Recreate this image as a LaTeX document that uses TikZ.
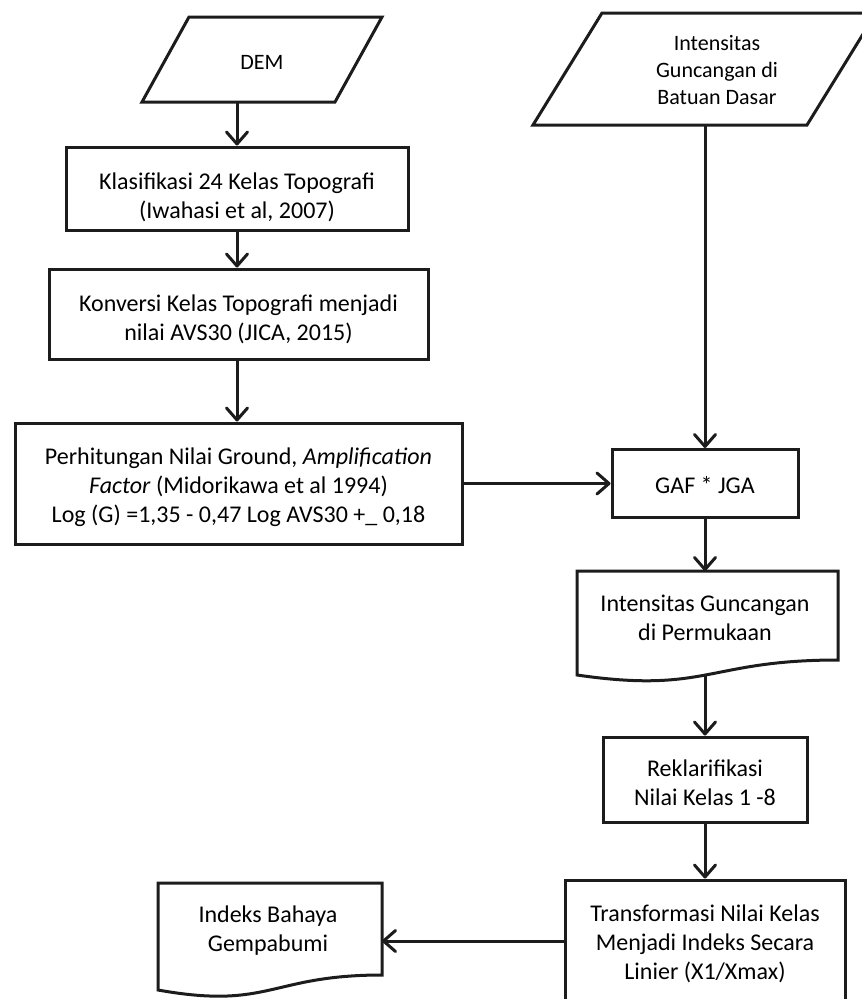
\documentclass[tikz,border=0pt]{standalone}
\usepackage{fontspec}
\setmainfont{Carlito}
\usetikzlibrary{arrows.meta}
\definecolor{ink}{HTML}{1C1C1C}
\tikzset{
  box/.style={draw=ink, line width=3pt, inner sep=0pt, anchor=center},
  txt/.style={align=center, inner sep=0pt, text=black, font=\fontsize{24}{29}\selectfont},
  smalltxt/.style={align=center, inner sep=0pt, text=black, font=\fontsize{22}{27}\selectfont},
  outline/.style={draw=ink, line width=3pt, line join=miter},
  flow/.style={draw=ink, line width=3pt, -{Straight Barb[round,length=12pt,width=21pt]}}
}
\begin{document}
\begin{tikzpicture}[x=1pt,y=-1pt]
\useasboundingbox (0,0) rectangle (862,999);
\clip (0,0) rectangle (862,999);

% input: DEM
\draw[outline] (189,17) -- (382,17) -- (335,102) -- (142,102) -- cycle;
\node[smalltxt] (dem) at (262,62) {DEM};
\coordinate (demb) at (237,102);

% input: bedrock shaking intensity
\draw[outline] (602,13) -- (876,13) -- (807,125) -- (533,125) -- cycle;
\node[smalltxt] (inb) at (717,70) {Intensitas\\Guncangan di\\Batuan Dasar};
\coordinate (inbb) at (705,125);

% left column process boxes
\node[box, minimum width=342pt, minimum height=83pt] (klas) at (237,188.5) {};
\node[txt] (klast) at (237,197) {Klasifikasi 24 Kelas Topografi\\(Iwahasi et al, 2007)};

\node[box, minimum width=379pt, minimum height=90pt] (konv) at (238.5,314) {};
\node[txt] (konvt) at (238.5,319) {Konversi Kelas Topografi menjadi\\nilai AVS30 (JICA, 2015)};

\node[box, minimum width=447pt, minimum height=121pt] (perh) at (238.5,483.5) {};
\node[txt] (perht) at (238.5,487) {Perhitungan Nilai Ground, \textit{Amplification}\\\textit{Factor} (Midorikawa et al 1994)\\Log (G) =1,35 - 0,47 Log AVS30 +\_ 0,18};

% right column
\node[box, minimum width=186pt, minimum height=68pt] (gaf) at (705,483.5) {};
\node[txt] (gaft) at (705,485) {GAF * JGA};

% document: surface shaking intensity
\draw[outline] (577,571) -- (838,571) -- (838,660)
  .. controls (707.5,660) and (707.5,694) .. (577,675) -- cycle;
\node[txt] (surft) at (705,618) {Intensitas Guncangan\\di Permukaan};
\coordinate (surfa) at (705,571);
\coordinate (surfb) at (705,675);

\node[box, minimum width=204pt, minimum height=85pt] (rek) at (705,779.5) {};
\node[txt] (rekt) at (705,783) {Reklarifikasi\\Nilai Kelas 1 -8};

\node[box, minimum width=280pt, minimum height=122pt] (trans) at (705,941) {};
\node[txt] (transt) at (705,944) {Transformasi Nilai Kelas\\Menjadi Indeks Secara\\Linier (X1/Xmax)};

% document: hazard index
\draw[outline] (158,883) -- (382,883) -- (382,975)
  .. controls (270,975) and (270,1010) .. (158,990) -- cycle;
\node[txt] (idxt) at (268,931) {Indeks Bahaya\\Gempabumi};
\coordinate (idxr) at (382,941);

% connectors
\draw[flow] (demb) -- (klas.north);
\draw[flow] (klas.south) -- (konv.north -| klas.south);
\draw[flow] (konv.south -| klas.south) -- (perh.north -| klas.south);
\draw[flow] (perh.east) -- (perh.east -| gaf.west);
\draw[flow] (inbb) -- (gaf.north);
\draw[flow] (gaf.south) -- (surfa);
\draw[flow] (surfb) -- (rek.north);
\draw[flow] (rek.south) -- (trans.north);
\draw[flow] (trans.west) -- (trans.west -| idxr);
\end{tikzpicture}
\end{document}
